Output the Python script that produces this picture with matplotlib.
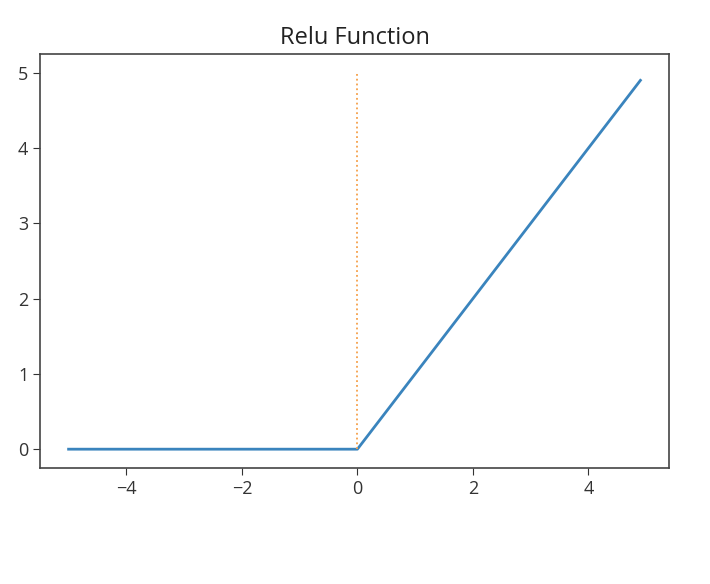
import numpy as np
import matplotlib
matplotlib.use("Agg")
import matplotlib.pyplot as plt

plt.rcParams['font.family'] = ['Open Sans', 'DejaVu Sans']

x = np.arange(-5, 5, 0.1)
y = np.maximum(0, x)
vline_x = [0, 0]
vline_y = [0, 5]

fig = plt.figure(figsize=(7.1, 5.84), dpi=100)
ax = fig.add_axes([40/710, 1 - 468/584, (669-40)/710, (468-54)/584])
ax.plot(x, y, color='#3a84bd', lw=2)
ax.plot(vline_x, vline_y, ':', color='#f5a04a', lw=1.3)
ax.set_title("Relu Function", fontsize=17, pad=7, color='#222222')
ax.tick_params(labelsize=13, colors='#333333', length=5)
for s in ax.spines.values():
    s.set_color('#444444')
    s.set_linewidth(1.2)
fig.savefig("out.png", dpi=100)
